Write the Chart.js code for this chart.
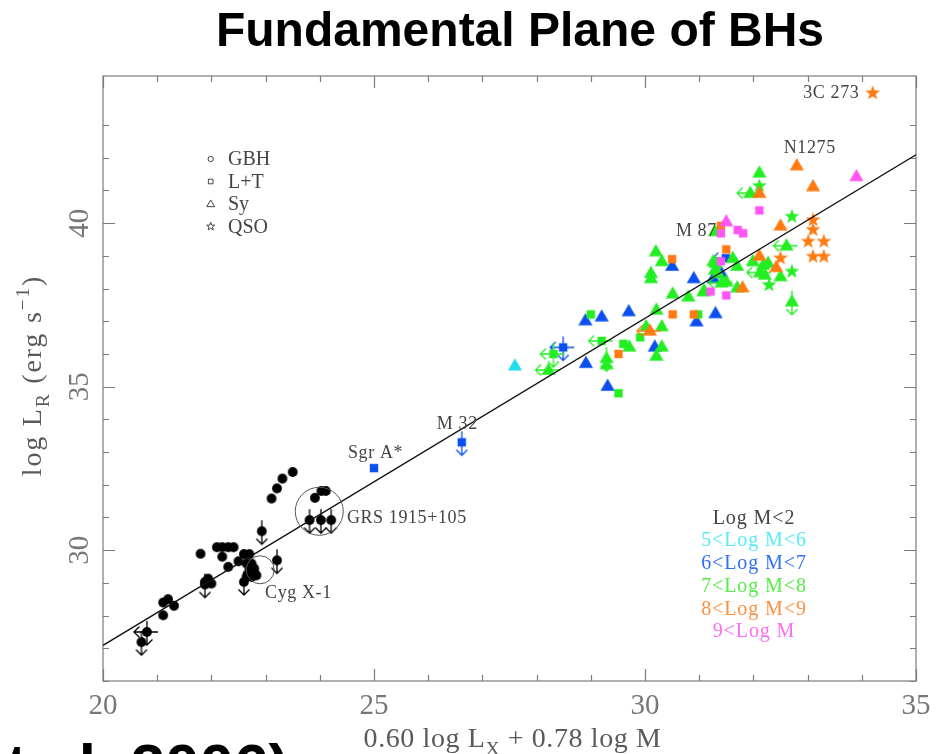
<!DOCTYPE html>
<html>
<head>
<meta charset="utf-8">
<title>Fundamental Plane of BHs</title>
<script src="https://cdn.jsdelivr.net/npm/chart.js@4.4.0/dist/chart.umd.min.js"></script>
<style>
  html, body { margin: 0; padding: 0; background: #fff; overflow: hidden; }
  #wrap { position: relative; width: 946px; height: 754px; overflow: hidden; }
  #plane { position: absolute; left: 0; top: 0; }
  #title { position: absolute; left: 0; top: 6px; width: 1040px; text-align: center;
           font: bold 48px/48px "Liberation Sans", Arial, sans-serif; color: #000; }
  #cite { position: absolute; left: -28px; top: 735px; white-space: nowrap;
          font: bold 62px/62px "Liberation Sans", Arial, sans-serif; color: #000; }
</style>
</head>
<body>
<div id="wrap">
  <canvas id="plane" width="946" height="754"></canvas>
  <div id="title">Fundamental Plane of BHs</div>
  <div id="cite">et al. 2006)</div>
</div>
<script>
// axes: x = 0.60 log Lx + 0.78 log M, y = log L_R
const xTicks = [20, 25, 30, 35];
const yTicks = [30, 35, 40];
const fitLine = [[20, 27.09], [35, 42.09]];

const typeNames = ['GBH', 'L+T', 'Sy', 'QSO'];
const binNames = ['Log M<2', '5<Log M<6', '6<Log M<7', '7<Log M<8', '8<Log M<9', '9<Log M'];

// [type, x, y, limit]  limit: 'd' = upper limit on L_R, 'l' = upper limit on x
const binM2 = [
  ['GBH', 23.50, 32.39, ''], ['GBH', 23.31, 32.19, ''], ['GBH', 23.21, 31.89, ''], ['GBH', 23.11, 31.58, ''],
  ['GBH', 23.91, 31.60, ''], ['GBH', 24.03, 31.81, ''], ['GBH', 24.11, 31.81, ''],
  ['GBH', 23.81, 30.92, 'd'], ['GBH', 24.02, 30.92, 'd'], ['GBH', 24.21, 30.92, 'd'],
  ['GBH', 22.93, 30.58, 'd'], ['GBH', 23.21, 29.69, 'd'],
  ['GBH', 21.80, 29.89, ''],
  ['GBH', 22.10, 30.09, ''], ['GBH', 22.20, 30.09, ''], ['GBH', 22.31, 30.09, ''], ['GBH', 22.41, 30.09, ''],
  ['GBH', 22.20, 29.80, ''], ['GBH', 22.31, 29.49, ''], ['GBH', 22.50, 29.66, ''],
  ['GBH', 22.60, 29.88, ''], ['GBH', 22.70, 29.88, ''], ['GBH', 22.65, 29.59, ''], ['GBH', 22.74, 29.59, ''],
  ['GBH', 22.79, 29.44, ''], ['GBH', 22.70, 29.39, ''], ['GBH', 22.79, 29.29, ''], ['GBH', 22.65, 29.20, ''],
  ['GBH', 22.74, 29.18, ''], ['GBH', 22.83, 29.23, ''], ['GBH', 22.60, 29.03, 'd'],
  ['GBH', 21.88, 29.03, ''], ['GBH', 21.94, 29.13, ''], ['GBH', 22.00, 28.98, ''], ['GBH', 21.88, 28.95, 'd'],
  ['GBH', 21.11, 28.40, ''], ['GBH', 21.20, 28.50, ''], ['GBH', 21.31, 28.30, ''], ['GBH', 21.11, 28.01, ''],
  ['GBH', 20.81, 27.50, 'dl'], ['GBH', 20.71, 27.19, 'd']
];
const binM56 = [
  ['Sy', 27.60, 35.64, '']
];
const binM67 = [
  ['L+T', 25.00, 32.51, ''], ['L+T', 26.62, 33.30, 'd'], ['L+T', 28.49, 36.20, 'dl'],
  ['Sy', 28.91, 35.72, ''], ['Sy', 28.90, 37.02, ''], ['Sy', 29.20, 37.14, ''], ['Sy', 29.70, 37.30, ''],
  ['Sy', 29.31, 35.02, ''], ['Sy', 30.18, 36.22, ''], ['Sy', 30.50, 38.69, ''], ['Sy', 30.90, 38.31, ''],
  ['Sy', 30.95, 36.99, ''], ['Sy', 31.30, 37.24, ''], ['Sy', 31.41, 38.47, ''], ['Sy', 31.26, 38.31, ''],
  ['L+T', 31.49, 38.93, 'l']
];
const binM78 = [
  ['Sy', 28.22, 35.51, 'l'], ['L+T', 28.31, 36.00, 'dl'], ['L+T', 29.00, 37.21, ''], ['L+T', 29.20, 36.40, 'l'],
  ['L+T', 29.60, 36.31, ''], ['Sy', 29.71, 36.22, ''], ['Sy', 29.29, 35.87, 'd'], ['Sy', 29.29, 35.68, ''],
  ['L+T', 29.51, 34.80, ''], ['L+T', 29.91, 36.51, ''], ['Sy', 30.02, 36.84, ''], ['Sy', 30.31, 36.84, ''],
  ['Sy', 30.31, 36.22, ''], ['Sy', 30.21, 35.94, ''], ['Sy', 30.21, 37.35, ''], ['Sy', 30.51, 37.84, ''],
  ['Sy', 30.80, 37.75, ''], ['L+T', 30.98, 37.21, ''], ['Sy', 30.20, 39.13, ''], ['Sy', 30.31, 38.83, ''],
  ['Sy', 30.11, 38.47, ''], ['Sy', 30.11, 38.31, ''], ['Sy', 31.09, 37.94, ''],
  ['Sy', 32.11, 41.54, ''], ['QSO', 32.11, 41.14, ''], ['Sy', 31.94, 40.92, 'l'], ['QSO', 32.71, 40.20, ''],
  ['Sy', 32.61, 39.31, 'l'], ['Sy', 31.99, 38.83, ''], ['Sy', 32.18, 38.72, ''], ['Sy', 32.27, 38.78, ''],
  ['Sy', 32.12, 38.49, 'l'], ['Sy', 32.50, 38.37, ''], ['QSO', 32.71, 38.52, ''], ['QSO', 32.29, 38.11, ''],
  ['Sy', 32.71, 37.60, 'd'], ['Sy', 32.21, 38.42, ''], ['Sy', 31.29, 39.75, ''], ['Sy', 31.62, 38.93, ''],
  ['Sy', 31.70, 38.69, ''], ['Sy', 31.30, 38.78, ''], ['Sy', 31.29, 38.57, ''], ['Sy', 31.35, 38.47, ''],
  ['Sy', 31.41, 38.18, 'l'], ['Sy', 31.50, 38.21, ''], ['Sy', 31.70, 38.03, ''], ['Sy', 31.08, 37.91, ''],
  ['Sy', 31.26, 38.83, '']
];
const binM89 = [
  ['L+T', 29.51, 36.00, ''], ['Sy', 30.09, 36.71, 'l'], ['L+T', 30.51, 37.21, ''], ['L+T', 30.90, 37.21, ''],
  ['L+T', 30.50, 38.90, ''], ['Sy', 32.80, 41.76, ''], ['Sy', 33.10, 41.12, ''], ['QSO', 34.20, 43.98, ''],
  ['Sy', 32.11, 40.92, ''], ['Sy', 32.50, 39.92, ''], ['QSO', 33.10, 40.10, ''], ['QSO', 33.10, 39.80, ''],
  ['QSO', 33.01, 39.44, ''], ['QSO', 33.30, 39.44, ''], ['QSO', 33.10, 38.98, ''], ['QSO', 33.30, 38.98, ''],
  ['QSO', 32.50, 38.93, ''], ['Sy', 32.11, 39.00, ''], ['Sy', 32.42, 38.65, ''], ['L+T', 31.40, 39.92, ''],
  ['L+T', 31.50, 39.20, ''], ['Sy', 31.80, 38.03, '']
];
const binM9 = [
  ['Sy', 33.90, 41.43, ''], ['L+T', 32.11, 40.39, ''], ['Sy', 31.50, 40.05, ''], ['L+T', 31.40, 39.69, ''],
  ['L+T', 31.71, 39.79, ''], ['L+T', 31.81, 39.69, ''], ['L+T', 31.40, 38.83, ''], ['L+T', 31.21, 37.91, ''],
  ['L+T', 31.50, 37.79, '']
];

// named sources: [text, left x, centre y]
const notes = [
  ['3C 273', 32.92, 43.96], ['N1275', 32.56, 42.30], ['M 87', 30.57, 39.76], ['M 32', 26.16, 33.86],
  ['Sgr A*', 24.52, 32.97], ['GRS 1915+105', 24.50, 30.98], ['Cyg X-1', 22.99, 28.68]
];
// rings: [x, y, radius in px]
const rings = [[23.99, 31.19, 24], [22.90, 29.40, 14]];

const bins = [binM2, binM56, binM67, binM78, binM89, binM9];
const binColors = ['#000000', '#22dcec', '#0b4ff0', '#22ee22', '#ff7b12', '#ff55f5'];
const binTextColors = ['#444444', '#55eaf8', '#3070f5', '#55ee44', '#ff9040', '#ff6cf5'];
const serif = '"Liberation Serif", "DejaVu Serif", serif';

// marker shapes
function shapePath(g, type, x, y, k) {
  g.beginPath();
  if (type === 'GBH') {
    g.arc(x, y, 4.9 * k, 0, Math.PI * 2);
  } else if (type === 'L+T') {
    const h = 4.2 * k;
    g.rect(x - h, y - h, 2 * h, 2 * h);
  } else if (type === 'Sy') {
    g.moveTo(x, y - 7.4 * k);
    g.lineTo(x + 7.1 * k, y + 4.8 * k);
    g.lineTo(x - 7.1 * k, y + 4.8 * k);
    g.closePath();
  } else {
    for (let i = 0; i < 10; i++) {
      const r = (i % 2 ? 3.2 : 7.8) * k;
      const a = -Math.PI / 2 + i * Math.PI / 5;
      g[i ? 'lineTo' : 'moveTo'](x + r * Math.cos(a), y + r * Math.sin(a));
    }
    g.closePath();
  }
}

const symCache = {};
function symbol(type, color, lim) {
  const key = type + color + lim;
  if (symCache[key]) return symCache[key];
  const S = 44, c = S / 2;
  const cv = document.createElement('canvas');
  cv.width = S; cv.height = S;
  const g = cv.getContext('2d');
  g.strokeStyle = color; g.fillStyle = color; g.lineWidth = 1.3;
  g.beginPath();
  if (lim.includes('d')) {
    g.moveTo(c, c - 11); g.lineTo(c, c + 13);
    g.moveTo(c - 5.5, c + 7.5); g.lineTo(c, c + 13); g.lineTo(c + 5.5, c + 7.5);
  }
  if (lim.includes('l')) {
    g.moveTo(c + 11, c); g.lineTo(c - 13, c);
    g.moveTo(c - 7.5, c - 5.5); g.lineTo(c - 13, c); g.lineTo(c - 7.5, c + 5.5);
  }
  g.stroke();
  shapePath(g, type, c, c, 1);
  g.fill();
  symCache[key] = cv;
  return cv;
}

function rich(ctx, parts, x, y, size, gap) {
  const setFont = p => { ctx.font = (p[1] ? size * 0.7 : size) + 'px ' + serif; };
  ctx.letterSpacing = gap + 'px';
  let w = 0;
  parts.forEach(p => { setFont(p); w += ctx.measureText(p[0]).width; });
  let cx = x - w / 2;
  parts.forEach(p => {
    setFont(p);
    const dy = p[1] === 'sub' ? size * 0.28 : p[1] === 'sup' ? -size * 0.42 : 0;
    ctx.fillText(p[0], cx, y + dy);
    cx += ctx.measureText(p[0]).width;
  });
  ctx.letterSpacing = '0px';
}

const isWhole = v => Math.abs(v - Math.round(v)) < 1e-6;

// box with inward ticks on all four sides
const frame = {
  id: 'frame',
  beforeDatasetsDraw(chart) {
    const { ctx, chartArea: a, scales: { x, y } } = chart;
    ctx.save();
    ctx.strokeStyle = '#7c7c7c';
    ctx.lineWidth = 1.2;
    ctx.strokeRect(a.left, a.top, a.right - a.left, a.bottom - a.top);
    ctx.beginPath();
    x.ticks.forEach(t => {
      if (!isWhole(t.value)) return;
      const px = Math.round(x.getPixelForValue(t.value)) + 0.5;
      const len = Math.round(t.value) % 5 === 0 ? 12 : 6;
      ctx.moveTo(px, a.bottom); ctx.lineTo(px, a.bottom - len);
      ctx.moveTo(px, a.top); ctx.lineTo(px, a.top + len);
    });
    y.ticks.forEach(t => {
      if (!isWhole(t.value)) return;
      const py = Math.round(y.getPixelForValue(t.value)) + 0.5;
      const len = Math.round(t.value) % 5 === 0 ? 12 : 6;
      ctx.moveTo(a.left, py); ctx.lineTo(a.left + len, py);
      ctx.moveTo(a.right, py); ctx.lineTo(a.right - len, py);
    });
    ctx.stroke();
    ctx.restore();
  },
  afterDraw(chart) {
    const { ctx, chartArea: a, scales: { x, y } } = chart;
    ctx.save();
    // axis titles
    ctx.fillStyle = '#5a5a5a';
    ctx.textBaseline = 'alphabetic';
    rich(ctx, [['0.60 log L'], ['X', 'sub'], [' + 0.78 log M']], (a.left + a.right) / 2 + 3, 747, 28, 0.6);
    ctx.save();
    ctx.translate(41, (a.top + a.bottom) / 2 - 3);
    ctx.rotate(-Math.PI / 2);
    rich(ctx, [['log L'], ['R', 'sub'], [' (erg s'], ['\u22121', 'sup'], [')']], 0, 0, 28, 1.8);
    ctx.restore();

    // named sources
    ctx.fillStyle = '#444';
    ctx.font = '18px ' + serif;
    ctx.letterSpacing = '0.6px';
    ctx.textAlign = 'left';
    ctx.textBaseline = 'middle';
    notes.forEach(n => ctx.fillText(n[0], x.getPixelForValue(n[1]), y.getPixelForValue(n[2])));
    ctx.strokeStyle = '#555';
    ctx.lineWidth = 1;
    rings.forEach(r => {
      ctx.beginPath();
      ctx.arc(x.getPixelForValue(r[0]), y.getPixelForValue(r[1]), r[2], 0, Math.PI * 2);
      ctx.stroke();
    });

    // symbol key
    ctx.font = '20px ' + serif;
    ctx.letterSpacing = '0px';
    typeNames.forEach((name, i) => {
      const sy = a.top + 83 + i * 22.5;
      ctx.strokeStyle = '#444';
      ctx.lineWidth = 1;
      shapePath(ctx, name, a.left + 107.7, sy, 0.55);
      ctx.stroke();
      ctx.fillStyle = '#444';
      ctx.fillText(name, a.left + 125, sy + 1);
    });

    // mass key
    ctx.textAlign = 'center';
    ctx.letterSpacing = '0.9px';
    binNames.forEach((name, i) => {
      ctx.fillStyle = binTextColors[i];
      ctx.fillText(name, a.left + 651, a.top + 442.5 + i * 22.7);
    });
    ctx.restore();
  }
};

const datasets = [{
  type: 'line',
  data: fitLine.map(p => ({ x: p[0], y: p[1] })),
  borderColor: '#111',
  borderWidth: 1.3,
  pointRadius: 0,
  order: 0
}];
bins.forEach((bin, i) => {
  datasets.push({
    label: binNames[i],
    data: bin.map(p => ({ type: p[0], x: p[1], y: p[2], lim: p[3] })),
    pointRadius: 4,
    pointStyle: ctx => symbol(ctx.raw.type, binColors[i], ctx.raw.lim),
    order: 6 - i
  });
});

new Chart(document.getElementById('plane'), {
  type: 'scatter',
  data: { datasets },
  options: {
    responsive: false,
    animation: false,
    events: [],
    layout: { padding: { top: 76, right: 30, left: 0, bottom: 0 } },
    plugins: { legend: { display: false }, tooltip: { enabled: false } },
    scales: {
      x: {
        type: 'linear', min: 20, max: 35,
        grid: { display: false }, border: { display: false },
        ticks: {
          stepSize: 1, autoSkip: false, maxRotation: 0, padding: 0,
          color: '#777', font: { family: serif, size: 29 },
          callback: v => xTicks.includes(v) ? String(v) : ''
        },
        afterFit(s) { s.height = 73; }
      },
      y: {
        type: 'linear', min: 26, max: 44.5,
        grid: { display: false }, border: { display: false },
        ticks: {
          stepSize: 1, autoSkip: false, minRotation: 90, maxRotation: 90,
          crossAlign: 'center', padding: 0,
          color: '#777', font: { family: serif, size: 29 },
          callback: v => yTicks.includes(v) ? String(v) : ''
        },
        afterFit(s) { s.width = 103; }
      }
    }
  },
  plugins: [frame]
});
</script>
</body>
</html>
